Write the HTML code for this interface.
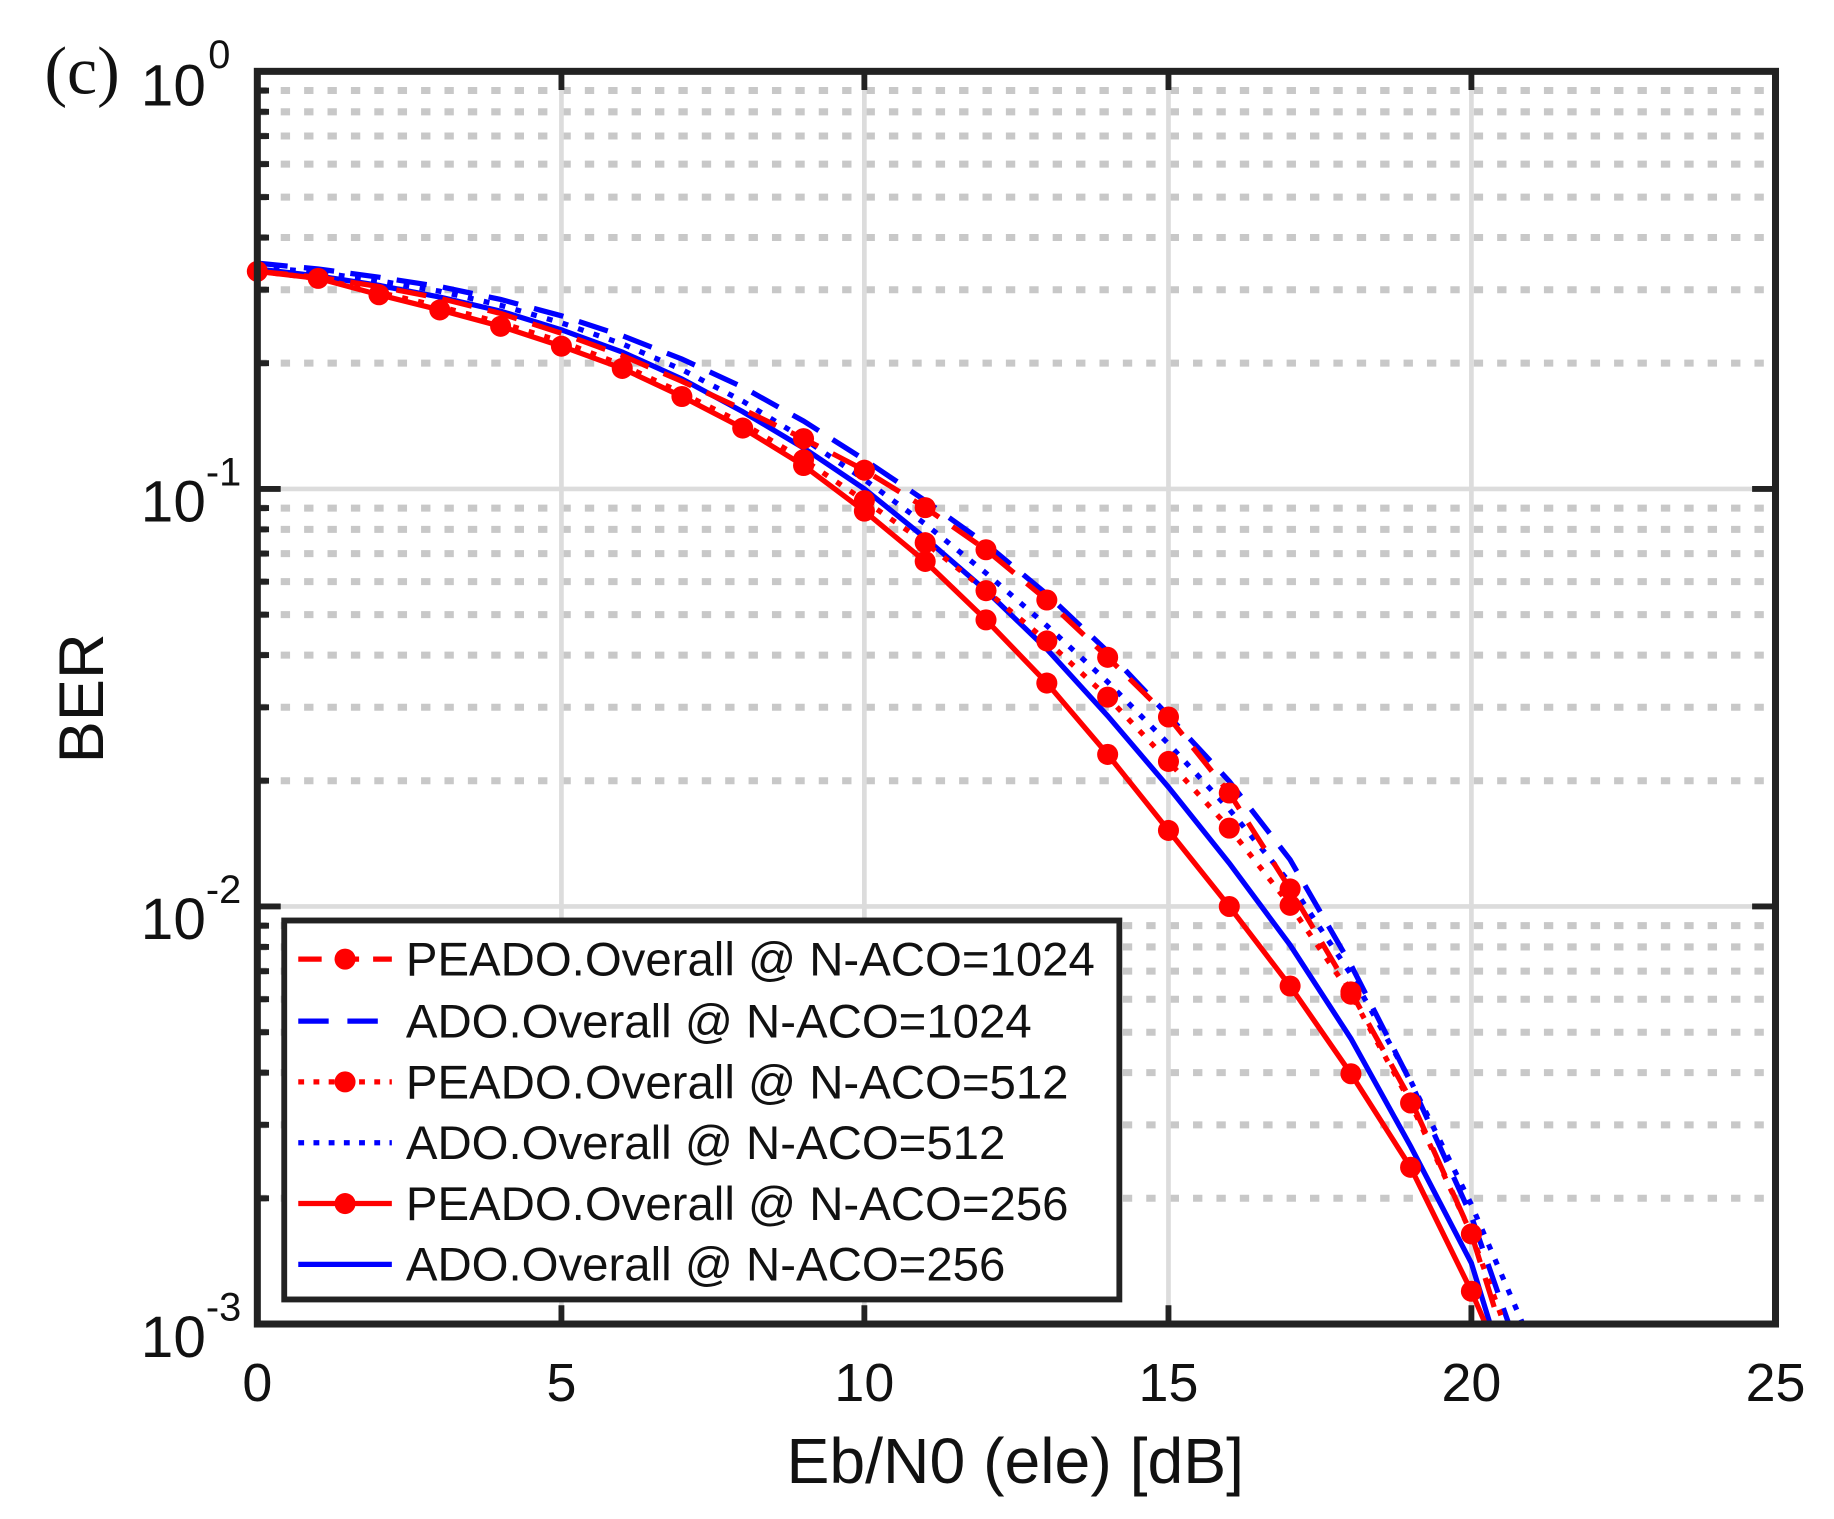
<!DOCTYPE html>
<html><head><meta charset="utf-8"><style>html,body{margin:0;padding:0;background:#fff}svg{display:block}</style></head>
<body>
<svg width="1834" height="1519" viewBox="0 0 1568 1298.7" xmlns="http://www.w3.org/2000/svg" font-family="Liberation Sans, sans-serif">
<rect width="1568" height="1299" fill="#fff"/>
<!-- minor grid -->
<path d="M220 1024.5H1518M220 961.7H1518M220 917.1H1518M220 882.5H1518M220 854.3H1518M220 830.3H1518M220 809.6H1518M220 791.4H1518
M220 667.5H1518M220 604.7H1518M220 560.1H1518M220 525.5H1518M220 497.3H1518M220 473.3H1518M220 452.6H1518M220 434.4H1518
M220 310.5H1518M220 247.7H1518M220 203.1H1518M220 168.5H1518M220 140.3H1518M220 116.3H1518M220 95.6H1518M220 77.4H1518" stroke="#c8c8c8" stroke-width="6" stroke-dasharray="8 12"/>
<!-- major grid -->
<path d="M480 61V1132M739 61V1132M999 61V1132M1258 61V1132M220 418H1518M220 775H1518" stroke="#dcdcdc" stroke-width="4"/>
<!-- ticks -->
<path d="M220 1024.5h10M220 961.7h10M220 917.1h10M220 882.5h10M220 854.3h10M220 830.3h10M220 809.6h10M220 791.4h10M220 667.5h10M220 604.7h10M220 560.1h10M220 525.5h10M220 497.3h10M220 473.3h10M220 452.6h10M220 434.4h10M220 310.5h10M220 247.7h10M220 203.1h10M220 168.5h10M220 140.3h10M220 116.3h10M220 95.6h10M220 77.4h10M220 418h20M220 775h20M1518 418h-20M1518 775h-20M480 61v16M739 61v16M999 61v16M1258 61v16M480 1132v-16M739 1132v-16M999 1132v-16M1258 1132v-16" stroke="#222" stroke-width="5"/>
<g fill="none" stroke-width="4.5">
<polyline stroke="#0000ff" stroke-dasharray="26 14" points="220,225 272,230 324,237 376,245 428,256 480,270 532,287 583,307 635,331 687,360 739,393 791,428 843,465 895,508 947,557 999,612 1051,668 1103,735 1155,825 1206,925 1258,1040 1290,1132"/>
<polyline stroke="#0000ff" stroke-dasharray="5 9" points="220,228 272,233 324,240 376,249 428,261 480,276 532,294 583,316 635,343 687,375 739,410 791,448 843,490 895,535 947,583 999,636 1051,692 1103,755 1155,833 1206,924 1258,1030 1302,1132"/>
<polyline stroke="#0000ff" points="220,230 272,236 324,244 376,254 428,266 480,282 532,301 583,324 635,352 687,383 739,418 791,460 843,505 895,555 947,612 999,673 1051,738 1103,808 1155,888 1206,980 1258,1080 1274,1132"/>
<polyline stroke="#ff0000" stroke-dasharray="26 14" points="220,232 272,237 324,245 376,255 428,268 480,285 532,304 583,326 635,350 687,375 739,402 791,434 843,470 895,513 947,562 999,613 1051,678 1103,760 1155,848 1206,940 1258,1055 1282,1132"/>
<polyline stroke="#ff0000" stroke-dasharray="5 9" points="220,232 272,238 324,250 376,262 428,276 480,292 532,312 583,336 635,362 687,393 739,428 791,464 843,505 895,548 947,596 999,651 1051,708 1103,774 1155,850 1206,943 1258,1055 1286,1132"/>
<polyline stroke="#ff0000" points="220,232 272,238 324,252 376,265 428,279 480,296 532,315 583,339 635,366 687,398 739,437 791,480 843,530 895,584 947,645 999,710 1051,775 1103,843 1155,918 1206,998 1258,1104 1270,1132"/>
</g>
<g fill="#ff0000">
<circle cx="220" cy="232" r="9"/><circle cx="272" cy="238" r="9"/><circle cx="324" cy="252" r="9"/><circle cx="376" cy="265" r="9"/><circle cx="428" cy="279" r="9"/><circle cx="480" cy="296" r="9"/><circle cx="532" cy="315" r="9"/><circle cx="583" cy="339" r="9"/><circle cx="635" cy="366" r="9"/><circle cx="687" cy="398" r="9"/><circle cx="739" cy="437" r="9"/><circle cx="791" cy="480" r="9"/><circle cx="843" cy="530" r="9"/><circle cx="895" cy="584" r="9"/><circle cx="947" cy="645" r="9"/><circle cx="999" cy="710" r="9"/><circle cx="1051" cy="775" r="9"/><circle cx="1103" cy="843" r="9"/><circle cx="1155" cy="918" r="9"/><circle cx="1206" cy="998" r="9"/><circle cx="1258" cy="1104" r="9"/>
<circle cx="687" cy="393" r="9"/><circle cx="739" cy="428" r="9"/><circle cx="791" cy="464" r="9"/><circle cx="843" cy="505" r="9"/><circle cx="895" cy="548" r="9"/><circle cx="947" cy="596" r="9"/><circle cx="999" cy="651" r="9"/><circle cx="1051" cy="708" r="9"/><circle cx="1103" cy="774" r="9"/><circle cx="1155" cy="850" r="9"/><circle cx="1206" cy="943" r="9"/><circle cx="1258" cy="1055" r="9"/>
<circle cx="687" cy="375" r="9"/><circle cx="739" cy="402" r="9"/><circle cx="791" cy="434" r="9"/><circle cx="843" cy="470" r="9"/><circle cx="895" cy="513" r="9"/><circle cx="947" cy="562" r="9"/><circle cx="999" cy="613" r="9"/><circle cx="1051" cy="678" r="9"/><circle cx="1103" cy="760" r="9"/><circle cx="1155" cy="848" r="9"/>
</g>
<rect x="220" y="61" width="1298" height="1071" fill="none" stroke="#222" stroke-width="6"/>
<!-- legend -->
<rect x="243" y="787" width="714" height="324" fill="#fff" stroke="#222" stroke-width="5"/>
<g stroke-width="4.5" fill="none">
<path d="M255 820H335" stroke="#f00" stroke-dasharray="20 12"/>
<path d="M255 873H335" stroke="#00f" stroke-dasharray="26 16"/>
<path d="M255 925H335" stroke="#f00" stroke-dasharray="5 8"/>
<path d="M255 977H335" stroke="#00f" stroke-dasharray="5 8"/>
<path d="M255 1029H335" stroke="#f00"/>
<path d="M255 1081H335" stroke="#00f"/>
</g>
<g fill="#f00"><circle cx="295" cy="820" r="9"/><circle cx="295" cy="925" r="9"/><circle cx="295" cy="1029" r="9"/></g>
<g font-size="40.5" fill="#111">
<text x="347" y="834">PEADO.Overall @ N-ACO=1024</text>
<text x="347" y="887">ADO.Overall @ N-ACO=1024</text>
<text x="347" y="939">PEADO.Overall @ N-ACO=512</text>
<text x="347" y="991">ADO.Overall @ N-ACO=512</text>
<text x="347" y="1043">PEADO.Overall @ N-ACO=256</text>
<text x="347" y="1095">ADO.Overall @ N-ACO=256</text>
</g>
<g font-size="46" fill="#111" text-anchor="middle">
<text x="220" y="1198">0</text><text x="480" y="1198">5</text><text x="739" y="1198">10</text><text x="999" y="1198">15</text><text x="1258" y="1198">20</text><text x="1518" y="1198">25</text>
</g>
<g font-size="50" fill="#111" text-anchor="end">
<text x="176" y="90">10</text><text x="176" y="446">10</text><text x="176" y="803">10</text><text x="176" y="1160">10</text>
</g>
<g font-size="34" fill="#111">
<text x="178" y="58">0</text><text x="176" y="415">-1</text><text x="176" y="772">-2</text><text x="176" y="1129">-3</text>
</g>
<text x="868" y="1268" font-size="55" fill="#111" text-anchor="middle">Eb/N0 (ele) [dB]</text>
<text transform="translate(88,597) rotate(-90)" font-size="54" fill="#111" text-anchor="middle">BER</text>
<text x="38" y="80" font-size="58" fill="#111" font-family="Liberation Serif, serif">(c)</text>
</svg>
</body></html>
